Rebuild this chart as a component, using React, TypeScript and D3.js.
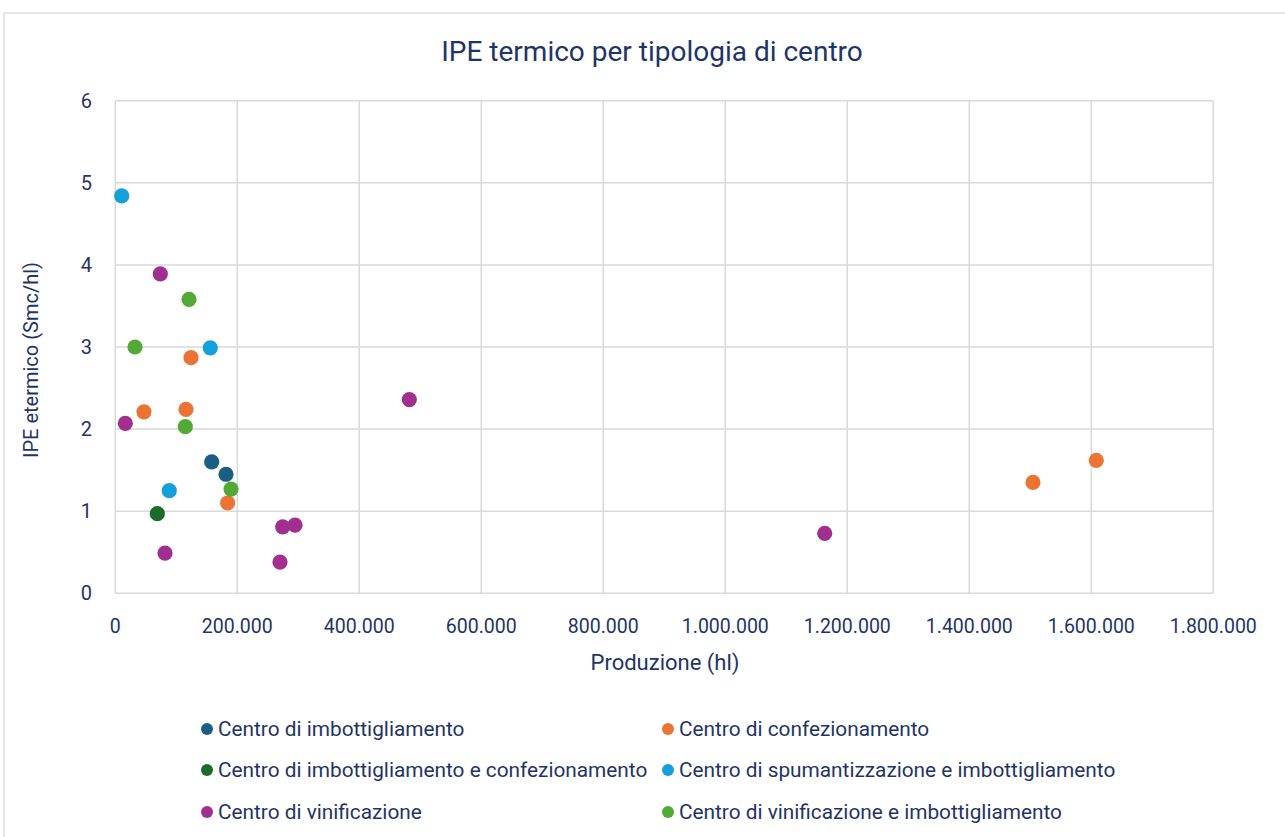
import React from "react";
import * as d3 from "d3";

const seriesNames = [
  "Centro di imbottigliamento",
  "Centro di confezionamento",
  "Centro di imbottigliamento e confezionamento",
  "Centro di spumantizzazione e imbottigliamento",
  "Centro di vinificazione",
  "Centro di vinificazione e imbottigliamento",
];
const seriesColors = ["#1b5e83", "#eb7434", "#1b6b2a", "#14a0da", "#a02f90", "#53a935"];

const imbottX = [158000, 181500];
const imbottY = [1.6, 1.45];
const confezX = [47000, 115900, 124100, 184200, 1504400, 1608200];
const confezY = [2.21, 2.24, 2.87, 1.1, 1.35, 1.62];
const imbConfX = [68900];
const imbConfY = [0.97];
const spumX = [10500, 155700, 88500];
const spumY = [4.84, 2.99, 1.25];
const vinifX = [73800, 16400, 81500, 274400, 294600, 270000, 482000, 1163000];
const vinifY = [3.89, 2.07, 0.49, 0.81, 0.83, 0.38, 2.36, 0.73];
const vinImbX = [120800, 32300, 114800, 189700];
const vinImbY = [3.58, 3.0, 2.03, 1.27];

const seriesX = [imbottX, confezX, imbConfX, spumX, vinifX, vinImbX];
const seriesY = [imbottY, confezY, imbConfY, spumY, vinifY, vinImbY];

const xTicks = [0, 200000, 400000, 600000, 800000, 1000000, 1200000, 1400000, 1600000, 1800000];
const yTicks = [0, 1, 2, 3, 4, 5, 6];

const TEXT = "#1f3467";
const GRID = "#d9d9d9";
const FONT = "Roboto, 'Noto Sans', sans-serif";

const fmt = (v: number) => d3.format(",")(v).replace(/,/g, ".");

export default function App() {
  const x = d3.scaleLinear().domain([0, 1800000]).range([115.3, 1213.3]);
  const y = d3.scaleLinear().domain([0, 6]).range([593.3, 100.7]);

  const legendCols = [207, 668];
  const legendRows = [729, 770, 812];

  return (
    <svg
      width={1285}
      height={837}
      style={{ position: "absolute", left: 0, top: 0, background: "#fff" }}
      fontFamily={FONT}
    >
      <rect x={4} y={13} width={1290} height={830} fill="#fff" stroke={GRID} strokeWidth={1.3} />
      <text x={652} y={61} textAnchor="middle" fontSize={28} fill={TEXT}>
        IPE termico per tipologia di centro
      </text>
      {yTicks.map((t) => (
        <g key={"y" + t}>
          <line x1={x(0)} x2={x(1800000)} y1={y(t)} y2={y(t)} stroke={GRID} strokeWidth={1.5} />
          <text x={92} y={y(t) + 7} textAnchor="end" fontSize={20} fill={TEXT}>
            {t}
          </text>
        </g>
      ))}
      {xTicks.map((t) => (
        <g key={"x" + t}>
          <line x1={x(t)} x2={x(t)} y1={y(0)} y2={y(6)} stroke={GRID} strokeWidth={1.5} />
          <text x={x(t)} y={633} textAnchor="middle" fontSize={19.5} fill={TEXT}>
            {fmt(t)}
          </text>
        </g>
      ))}
      <text x={665} y={670} textAnchor="middle" fontSize={22} fill={TEXT}>
        Produzione (hl)
      </text>
      <text
        transform={`translate(38,360) rotate(-90)`}
        textAnchor="middle"
        fontSize={20}
        fill={TEXT}
      >
        IPE etermico (Smc/hl)
      </text>
      {seriesX.map((xs, si) => (
        <g key={"s" + si}>
          {xs.map((v, i) => (
            <circle key={i} cx={x(v)} cy={y(seriesY[si][i])} r={7.6} fill={seriesColors[si]} />
          ))}
        </g>
      ))}
      {seriesNames.map((n, i) => {
        const cx = legendCols[i % 2];
        const cy = legendRows[Math.floor(i / 2)];
        return (
          <g key={"l" + i}>
            <circle cx={cx} cy={cy} r={6} fill={seriesColors[i]} />
            <text x={cx + 11} y={cy + 7} fontSize={20.8} fill={TEXT}>
              {n}
            </text>
          </g>
        );
      })}
    </svg>
  );
}
